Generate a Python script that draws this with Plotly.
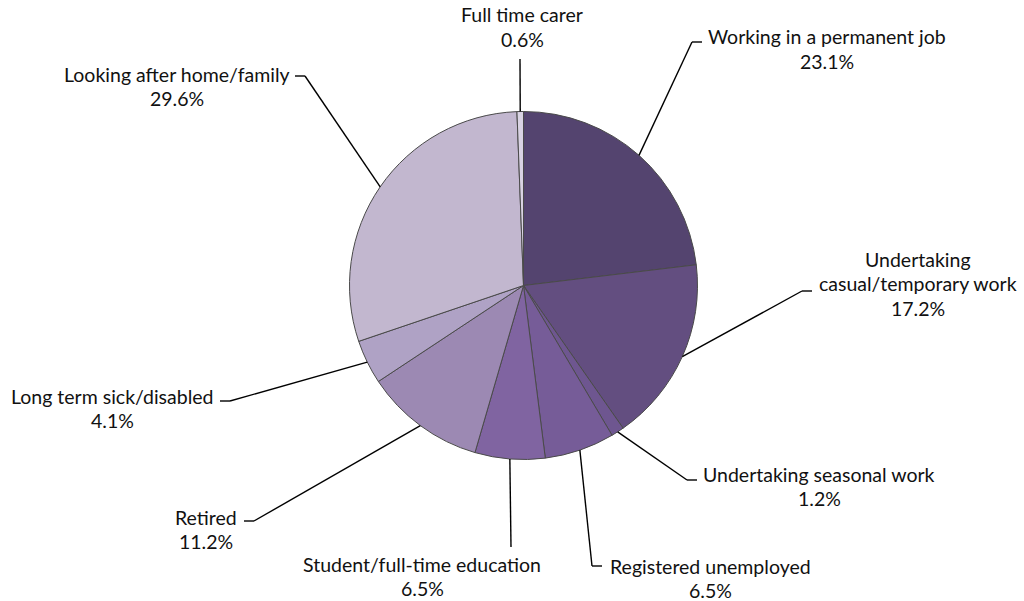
import math
import plotly.graph_objects as go

# ---- data ----
categories = [
    "Working in a permanent job",
    "Undertaking<br>casual/temporary work",
    "Undertaking seasonal work",
    "Registered unemployed",
    "Student/full-time education",
    "Retired",
    "Long term sick/disabled",
    "Looking after home/family",
    "Full time carer",
]
values = [23.1, 17.2, 1.2, 6.5, 6.5, 11.2, 4.1, 29.6, 0.6]
colors = ["#54446F", "#634E80", "#6E5690", "#765C98", "#8064A1",
          "#9C89B3", "#AFA2C5", "#C2B7CF", "#D9D3E3"]

# ---- layout constants (pixels) ----
W, H = 1024, 601
CX, CY, R = 523.5, 285.5, 174.0
# label text centre x, first line y ; leader elbow (x, y) ; horizontal stub direction (+1 right, -1 left, 0 none)
label_pos = [
    (827, 37, (692, 42), +1),
    (918, 259, (802, 291), +1),
    (819, 474, (687, 480), +1),
    (710, 566, (592, 566), +1),
    (422, 564, (511, 547), 0),
    (206, 517, (254, 521), -1),
    (112, 396, (230, 401), -1),
    (177, 74, (305, 76), -1),
    (522, 15, (520, 59), 0),
]
FONT = "Lato"
FS = 19.5
LINE_GAP = 24.5


def px(x):
    return x / W


def py(y):
    return 1 - y / H


fig = go.Figure()
fig.add_trace(go.Pie(
    labels=[c.replace("<br>", " ") for c in categories],
    values=values,
    sort=False,
    direction="clockwise",
    rotation=0,
    marker=dict(colors=colors, line=dict(color="#4a4a4a", width=1)),
    textinfo="none",
    hoverinfo="label+percent",
    showlegend=False,
    domain=dict(x=[px(CX - R), px(CX + R)], y=[py(CY + R), py(CY - R)]),
))

shapes = []
annotations = []
total = sum(values)
cum = 0.0
for cat, v, (tx, ty, (ex, ey), d) in zip(categories, values, label_pos):
    mid = (cum + v / 2) / total * 2 * math.pi
    cum += v
    sx = CX + R * math.sin(mid)
    sy = CY - R * math.cos(mid)
    shapes.append(dict(type="line", xref="paper", yref="paper",
                       x0=px(sx), y0=py(sy), x1=px(ex), y1=py(ey),
                       line=dict(color="black", width=1.4)))
    if d != 0:
        shapes.append(dict(type="line", xref="paper", yref="paper",
                           x0=px(ex), y0=py(ey), x1=px(ex + 10 * d), y1=py(ey),
                           line=dict(color="black", width=1.4)))
    lines = cat.split("<br>") + [f"{v:.1f}%"]
    for i, ln in enumerate(lines):
        annotations.append(dict(
            x=px(tx), y=py(ty + i * LINE_GAP), xref="paper", yref="paper",
            text=ln, showarrow=False, xanchor="center", yanchor="middle",
            font=dict(family=FONT, size=FS, color="#111111"),
        ))

fig.update_layout(
    width=W, height=H,
    margin=dict(l=0, r=0, t=0, b=0),
    paper_bgcolor="white",
    plot_bgcolor="white",
    shapes=shapes,
    annotations=annotations,
)

fig.write_html("out.html",
               config={"displayModeBar": False},
               post_script="document.body.style.margin='0';document.body.style.overflow='hidden';")
